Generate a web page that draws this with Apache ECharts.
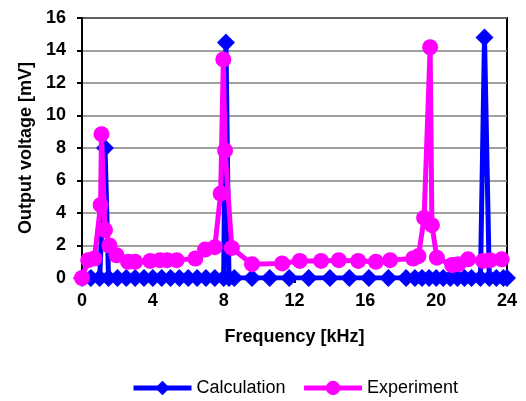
<!DOCTYPE html>
<html>
<head>
<meta charset="utf-8">
<script src="https://cdn.jsdelivr.net/npm/echarts@6/dist/echarts.min.js"></script>
<style>
html, body { margin: 0; padding: 0; background: #fff; }
#chart { width: 526px; height: 401px; }
</style>
</head>
<body>
<div id="chart"></div>
<script>
// frequency [kHz] / output voltage [mV]
let calcFreq = [0, 0.5, 1.0, 1.3, 1.5, 2.0, 2.5, 3.0, 3.5, 4.0, 4.5, 5.0, 5.5, 6.0, 6.5, 7.0, 7.5, 8.0, 8.13, 8.3, 8.6,
    9.6, 10.6, 11.7, 12.8, 14.0, 15.1, 16.2, 17.3, 18.3, 18.8, 19.2, 19.6, 20.0, 20.4, 20.8, 21.2, 21.6, 22.0, 22.5, 22.73, 23.0, 23.4, 23.8, 24.0]
let calcVolt = [0, 0, 0, 8.0, 0, 0, 0, 0, 0, 0, 0, 0, 0, 0, 0, 0, 0, 0, 14.5, 0, 0,
    0, 0, 0, 0, 0, 0, 0, 0, 0, 0, 0, 0, 0, 0, 0, 0, 0, 0, 0, 14.8, 0, 0, 0, 0]

let expFreq = [0, 0.35, 0.7, 1.05, 1.1, 1.3, 1.55, 1.95, 2.6, 3.0, 3.85, 4.4, 4.8, 5.35, 6.4, 6.95, 7.5, 7.83, 7.98, 8.08, 8.46,
    9.6, 11.3, 12.3, 13.5, 14.5, 15.6, 16.6, 17.4, 18.7, 19.0, 19.32, 19.66, 19.76, 20.04, 20.9, 21.25, 21.8, 22.65, 23.05, 23.7]
let expVolt = [0, 1.1, 1.2, 4.5, 8.85, 2.95, 2.0, 1.4, 1.0, 1.0, 1.05, 1.1, 1.1, 1.1, 1.2, 1.75, 1.9, 5.2, 13.45, 7.85, 1.85,
    0.85, 0.9, 1.05, 1.05, 1.1, 1.05, 1.0, 1.1, 1.2, 1.35, 3.7, 14.2, 3.25, 1.25, 0.8, 0.85, 1.15, 1.05, 1.1, 1.15]

let xTicks = [0, 4, 8, 12, 16, 20, 24]
let yTicks = [0, 2, 4, 6, 8, 10, 12, 14, 16]

let font = '"Liberation Sans", Arial, sans-serif'

let chart = echarts.init(document.getElementById('chart'))
let option = {
    animation: false,
    backgroundColor: '#fff',
    grid: {
        left: 82,
        right: 19,
        top: 18,
        bottom: 123,
        show: true,
        borderColor: '#000',
        borderWidth: 2
    },
    legend: {
        top: 374,
        left: 126,
        itemWidth: 58,
        itemHeight: 18,
        itemGap: 16,
        lineStyle: { width: 5 },
        textStyle: { fontFamily: font, fontSize: 18, color: '#000' },
        data: ['Calculation', 'Experiment']
    },
    xAxis: {
        type: 'value',
        min: xTicks[0],
        max: xTicks[xTicks.length - 1],
        interval: 4,
        name: 'Frequency [kHz]',
        nameLocation: 'middle',
        nameGap: 50,
        nameTextStyle: { fontFamily: font, fontSize: 18, fontWeight: 'bold', color: '#000' },
        axisLine: { lineStyle: { color: '#000', width: 2 } },
        axisTick: { show: true, length: 5, lineStyle: { color: '#000', width: 2 } },
        axisLabel: { fontFamily: font, fontSize: 18, fontWeight: 'bold', color: '#000', margin: 14 },
        splitLine: { show: false }
    },
    yAxis: {
        type: 'value',
        min: yTicks[0],
        max: yTicks[yTicks.length - 1],
        interval: 2,
        name: 'Output voltage [mV]',
        nameLocation: 'middle',
        nameGap: 47,
        nameTextStyle: { fontFamily: font, fontSize: 18, fontWeight: 'bold', color: '#000' },
        axisLine: { show: true, lineStyle: { color: '#000', width: 2 } },
        axisTick: { show: true, length: 5, lineStyle: { color: '#000', width: 2 } },
        axisLabel: { fontFamily: font, fontSize: 18, fontWeight: 'bold', color: '#000', margin: 16 },
        splitLine: { show: true, lineStyle: { color: '#808080', width: 1.5 } }
    },
    series: [
        {
            name: 'Calculation',
            type: 'line',
            data: calcFreq.map((f, i) => [f, calcVolt[i]]),
            symbol: 'diamond',
            symbolSize: 18,
            showAllSymbol: true,
            color: '#0000ff',
            lineStyle: { color: '#0000ff', width: 5 },
            itemStyle: { color: '#0000ff' },
            z: 2
        },
        {
            name: 'Experiment',
            type: 'line',
            data: expFreq.map((f, i) => [f, expVolt[i]]),
            symbol: 'circle',
            symbolSize: 16,
            showAllSymbol: true,
            color: '#ff00ff',
            lineStyle: { color: '#ff00ff', width: 5 },
            itemStyle: { color: '#ff00ff' },
            z: 3
        }
    ]
}
chart.setOption(option)
</script>
</body>
</html>
